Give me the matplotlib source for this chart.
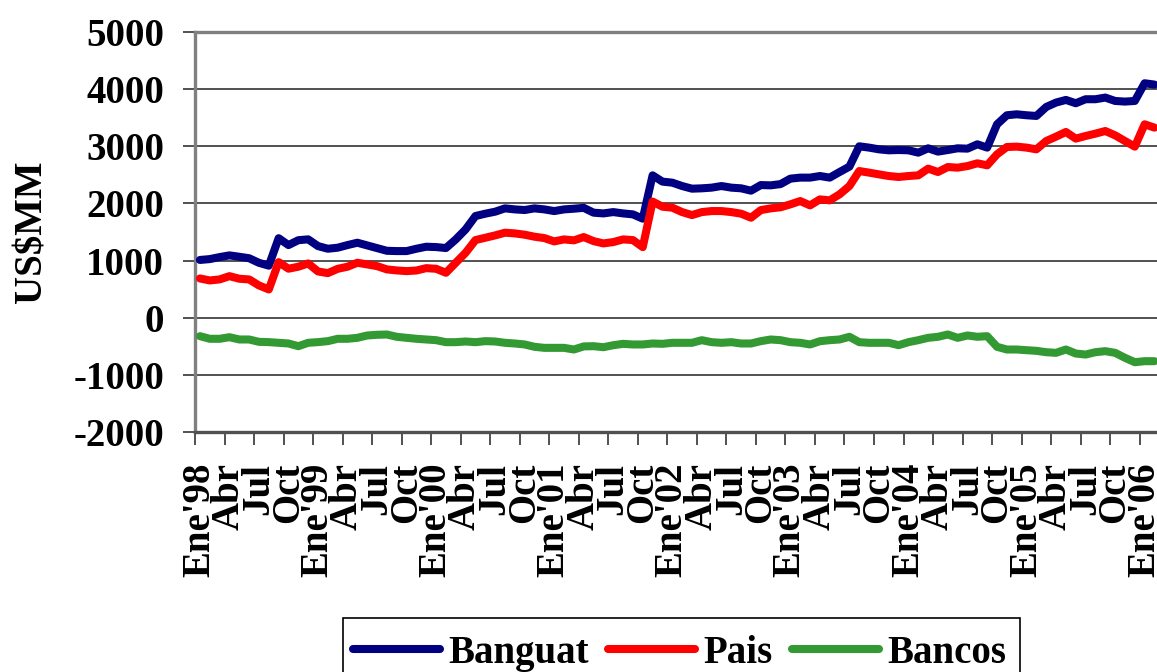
import matplotlib
matplotlib.use("Agg")
import matplotlib.pyplot as plt
from matplotlib.ticker import FixedLocator
from matplotlib.patches import Rectangle

# ---- data (monthly, Ene'98 .. Feb'06) ----
banguat = [1010, 1025, 1060, 1090, 1066, 1040, 960, 910, 1390, 1270,
           1355, 1370, 1252, 1206, 1224, 1270, 1311, 1264, 1217, 1170,
           1165, 1165, 1206, 1241, 1235, 1218, 1369, 1544, 1777, 1818,
           1853, 1911, 1893, 1882, 1911, 1893, 1864, 1893, 1905, 1920,
           1836, 1823, 1846, 1823, 1806, 1731, 2488, 2378, 2360, 2301,
           2255, 2261, 2273, 2301, 2273, 2261, 2220, 2318, 2313, 2335,
           2430, 2448, 2448, 2476, 2448, 2546, 2640, 2995, 2972, 2942,
           2925, 2930, 2925, 2884, 2960, 2902, 2930, 2960, 2954, 3030,
           2972, 3379, 3537, 3554, 3537, 3525, 3682, 3759, 3805, 3747,
           3817, 3817, 3846, 3787, 3776, 3787, 4096, 4073]
pais = [687, 652, 670, 727, 682, 670, 565, 495, 972, 857,
        892, 949, 809, 780, 855, 892, 961, 932, 902, 845,
        827, 815, 826, 867, 856, 786, 961, 1136, 1357, 1398,
        1439, 1486, 1474, 1451, 1416, 1392, 1334, 1369, 1352, 1410,
        1339, 1299, 1322, 1369, 1357, 1234, 2030, 1940, 1923, 1846,
        1794, 1846, 1864, 1864, 1846, 1818, 1748, 1881, 1911, 1930,
        1981, 2039, 1963, 2068, 2051, 2156, 2301, 2563, 2535, 2505,
        2476, 2459, 2476, 2488, 2605, 2546, 2633, 2622, 2650, 2698,
        2663, 2855, 2983, 2989, 2972, 2942, 3087, 3164, 3245, 3129,
        3175, 3216, 3262, 3187, 3087, 2989, 3379, 3321]
bancos = [-321, -367, -367, -339, -379, -379, -420, -425, -437, -449,
          -496, -437, -425, -408, -367, -367, -350, -309, -297, -292,
          -332, -350, -367, -379, -391, -426, -426, -414, -426, -408,
          -414, -437, -449, -466, -507, -525, -525, -525, -554, -500,
          -496, -514, -479, -455, -466, -466, -449, -455, -437, -437,
          -437, -391, -426, -437, -426, -449, -449, -408, -379, -391,
          -426, -437, -466, -409, -391, -379, -332, -426, -437, -437,
          -437, -478, -426, -391, -350, -332, -292, -350, -309, -332,
          -321, -507, -554, -554, -566, -577, -601, -612, -554, -624,
          -642, -601, -583, -612, -699, -776, -758, -758]

years = ["98", "99", "00", "01", "02", "03", "04", "05", "06"]
tick_labels = []
for y in years:
    tick_labels += ["Ene'" + y, "Abr", "Jul", "Oct"]
tick_labels = tick_labels[:33]

y_ticks = [-2000, -1000, 0, 1000, 2000, 3000, 4000, 5000]

W, H = 1157, 672
fig = plt.figure(figsize=(W / 100, H / 100), dpi=100)
ax = fig.add_axes([195 / W, 1 - 432.3 / H, (W - 195) / W, (432.3 - 31.5) / H])

FONT = "Liberation Serif"
FS = 28

x = list(range(len(banguat)))
kw = dict(lw=5.8, solid_joinstyle="round", solid_capstyle="round", zorder=3)
ax.plot(x, banguat, color="#000080", label="Banguat", **kw)
ax.plot(x, pais, color="#FF0000", label="Pais", **kw)
ax.plot(x, bancos, color="#339933", label="Bancos", **kw)

ax.set_xlim(-0.5, (W - 200) / 9.84)
ax.set_ylim(-2000, 5000)

# horizontal grid
for v in y_ticks[1:-1]:
    ax.axhline(v, color="#222222", lw=1.1, zorder=1)

ax.set_yticks(y_ticks)
ax.set_yticklabels([str(v) for v in y_ticks], fontfamily=FONT,
                   fontweight="bold", fontsize=FS)
ax.tick_params(axis="y", direction="out", length=8.6, width=1.2,
               color="#333333", pad=13.5)

label_pos = [3 * k for k in range(len(tick_labels))]
ax.set_xticks(label_pos)
ax.set_xticklabels(tick_labels, rotation=90, fontfamily=FONT,
                   fontweight="bold", fontsize=FS, ha="center", va="top")
ax.tick_params(axis="x", which="major", length=0, pad=22)
ax.xaxis.set_minor_locator(FixedLocator([3 * k - 0.5 for k in range(34)]))
ax.tick_params(axis="x", which="minor", direction="out", length=9,
               width=1.2, color="#333333")

for s in ["left", "top"]:
    ax.spines[s].set_color("#808080")
    ax.spines[s].set_linewidth(2.4)
ax.spines["bottom"].set_color("#505050")
ax.spines["bottom"].set_linewidth(2.4)
ax.spines["right"].set_visible(False)

fig.text(32 / W, 1 - 231.5 / H, "US$MM", rotation=90, ha="center",
         va="center", fontfamily=FONT, fontweight="bold", fontsize=FS)

leg = fig.legend(loc="upper left", bbox_to_anchor=(343 / W, 1 - 625 / H),
                 ncol=3, frameon=False,
                 prop=dict(family=FONT, weight="bold", size=FS),
                 handlelength=2.25, handletextpad=0.2, columnspacing=0.5,
                 borderpad=0.25, borderaxespad=0)
fig.add_artist(Rectangle((343 / W, -0.05), (1020 - 343) / W,
                         0.05 + (672 - 618) / H, transform=fig.transFigure,
                         fill=False, edgecolor="black", lw=1.2))

fig.savefig("out.png", dpi=100)
